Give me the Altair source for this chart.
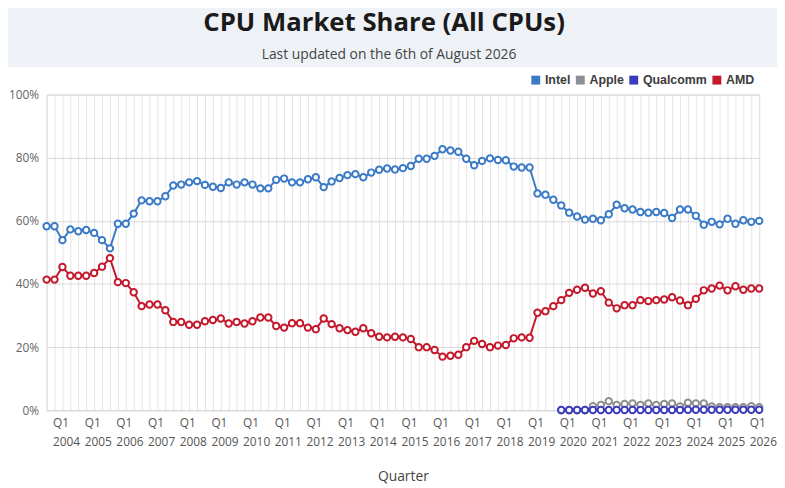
import altair as alt
import pandas as pd

# Quarter categories: Q3 2003 .. Q1 2026
quarters = []
for yr in range(2003, 2027):
    for q in range(1, 5):
        if (yr == 2003 and q < 3) or (yr == 2026 and q > 1):
            continue
        quarters.append(f"Q{q} {yr}")

intel = [58.3, 58.3, 53.9, 57.3, 56.7, 57.1, 56.2, 53.9, 51.3, 59.1,
         59.1, 62.3, 66.5, 66.2, 66.2, 67.8, 71.2, 71.5, 72.2, 72.6,
         71.4, 70.8, 70.4, 72.2, 71.5, 72.2, 71.5, 70.3, 70.3, 73.0,
         73.4, 72.2, 72.2, 73.2, 73.8, 70.7, 72.5, 73.6, 74.5, 74.8,
         73.8, 75.3, 76.2, 76.6, 76.3, 76.7, 77.4, 79.7, 79.7, 80.6,
         82.7, 82.3, 81.9, 79.7, 77.6, 79.0, 79.8, 79.3, 79.2, 77.2,
         76.9, 76.9, 68.7, 68.3, 66.7, 64.9, 62.6, 61.4, 60.4, 60.7,
         60.2, 62.1, 65.1, 64.0, 63.6, 62.8, 62.6, 62.8, 62.5, 60.9,
         63.6, 63.6, 61.6, 58.8, 59.7, 58.9, 60.7, 59.1, 60.2, 59.7,
         60.0]

amd = [41.4, 41.4, 45.4, 42.6, 42.6, 42.6, 43.5, 45.5, 48.2, 40.6,
       40.3, 37.4, 33.0, 33.5, 33.5, 31.7, 28.0, 28.0, 27.1, 27.1,
       28.2, 28.6, 29.1, 27.5, 28.0, 27.5, 28.2, 29.4, 29.4, 26.7,
       26.2, 27.6, 27.6, 26.2, 25.7, 29.1, 27.3, 26.0, 25.4, 24.9,
       26.0, 24.4, 23.3, 23.1, 23.3, 23.1, 22.6, 20.0, 20.0, 19.1,
       17.0, 17.3, 17.6, 20.0, 22.0, 21.0, 20.0, 20.5, 20.7, 22.8,
       23.1, 23.0, 30.9, 31.4, 33.0, 34.9, 37.2, 38.2, 38.8, 37.0,
       37.7, 34.1, 32.3, 33.3, 33.3, 34.9, 34.6, 34.9, 35.1, 35.8,
       34.8, 33.3, 35.3, 38.0, 38.6, 39.5, 38.0, 39.3, 38.2, 38.6,
       38.6]

# Apple and Qualcomm start at Q4 2019
apple = [0.0, 0.0, 0.0, 0.0, 1.3, 1.7, 2.9, 1.7, 2.0, 2.2,
         1.7, 2.2, 1.7, 2.0, 2.2, 1.2, 2.4, 2.2, 2.2, 1.2,
         1.0, 1.0, 1.0, 1.0, 1.3, 1.0]
qualcomm = [0.1, 0.1, 0.1, 0.1, 0.1, 0.1, 0.1, 0.1, 0.1, 0.1,
            0.1, 0.1, 0.1, 0.1, 0.1, 0.1, 0.2, 0.2, 0.2, 0.2,
            0.2, 0.2, 0.2, 0.2, 0.2, 0.2]

series_names = ["Intel", "Apple", "Qualcomm", "AMD"]
series_colors = ["#3a7ac6", "#8f8f8f", "#3b3bbd", "#c4182c"]

TITLE = "CPU Market Share (All CPUs)"
SUBTITLE = "Last updated on the 6th of August 2026"

rows = []
def add(name, vals):
    start = len(quarters) - len(vals)
    for k, v in enumerate(vals):
        rows.append({"series": name, "quarter": quarters[start + k],
                     "idx": start + k, "value": v})

add("Intel", intel)
add("AMD", amd)
add("Apple", apple)
add("Qualcomm", qualcomm)
df = pd.DataFrame(rows)

color_scale = alt.Scale(domain=series_names, range=series_colors)

x_enc = alt.X(
    "quarter:O", sort=quarters,
    scale=alt.Scale(type="point", padding=0),
    axis=alt.Axis(
        title="Quarter", grid=True, gridColor="#e4e4e4", ticks=False, domain=False,
        labelExpr="substring(datum.label,0,2)=='Q1' ? split(datum.label,' ') : ''",
        labelAngle=0, labelAlign="left", labelOffset=-10, labelPadding=7,
        labelFont="Open Sans", labelFontSize=12, labelColor="#555555",
        labelLineHeight=20, labelOverlap=False, labelBound=False,
        titleFont="Open Sans", titleFontSize=14, titleFontWeight="normal",
        titleColor="#444444", titlePadding=22,
    ),
)
y_enc = alt.Y(
    "value:Q",
    scale=alt.Scale(domain=[0, 100], nice=False),
    axis=alt.Axis(
        values=[0, 20, 40, 60, 80, 100], labelExpr="datum.value + '%'",
        title=None, grid=True, gridColor="#d9d9d9", ticks=False, domain=False,
        labelPadding=8, labelFont="Open Sans", labelFontSize=12, labelColor="#666666",
    ),
)

base = alt.Chart(df)

lines = base.mark_line(strokeWidth=2).encode(
    x=x_enc, y=y_enc,
    color=alt.Color("series:N", scale=color_scale, legend=None),
    order=alt.Order("idx:Q"),
    detail="series:N",
)
points = base.mark_point(filled=False, fill="white", size=42, strokeWidth=2, opacity=1).encode(
    x=x_enc, y=y_enc,
    color=alt.Color("series:N", scale=color_scale, legend=None),
)
legend_layer = base.mark_square(size=81, opacity=0).encode(
    x=x_enc, y=y_enc,
    color=alt.Color(
        "series:N", scale=color_scale,
        legend=alt.Legend(
            orient="none", legendX=488, legendY=-21, direction="horizontal",
            title=None, symbolType="square", symbolSize=81, symbolStrokeWidth=0,
            symbolOpacity=1, labelFont="Liberation Sans", labelFontSize=12.5,
            labelFontWeight="bold", labelColor="#3c3c3c", labelOffset=3,
            columnPadding=3, padding=0,
        ),
    ),
)

header = alt.Chart(pd.DataFrame({"h": [0]})).mark_rect(color="#eef2f6").encode(
    x=alt.value(-60), x2=alt.value(760), y=alt.value(-100), y2=alt.value(-28)
)
title_text = alt.Chart(pd.DataFrame({"t": [TITLE]})).mark_text(
    font="Open Sans", fontSize=26, fontWeight="bold", color="#1a1a1a",
    align="center", baseline="alphabetic",
).encode(text="t:N", x=alt.value(341), y=alt.value(-64))
subtitle_text = alt.Chart(pd.DataFrame({"t": [SUBTITLE]})).mark_text(
    font="Open Sans", fontSize=14, color="#444444",
    align="center", baseline="alphabetic",
).encode(text="t:N", x=alt.value(346), y=alt.value(-36))

chart = alt.layer(header, title_text, subtitle_text, lines, points, legend_layer).resolve_legend(
    color="independent"
).properties(
    width=720, height=319,
    autosize=alt.AutoSizeParams(type="none"),
    padding={"left": 39, "top": 85, "right": 18, "bottom": 76},
).configure_view(stroke=None).configure(background="white")

chart.save("out.html", embed_options={"renderer": "svg", "actions": False})
